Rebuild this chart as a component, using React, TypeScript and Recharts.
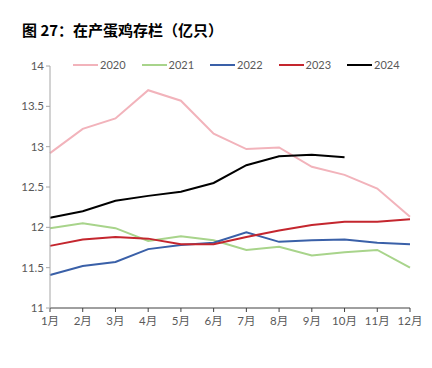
import { LineChart, Line, XAxis, YAxis } from "recharts";

const months = ["1月", "2月", "3月", "4月", "5月", "6月", "7月", "8月", "9月", "10月", "11月", "12月"];
const y2020 = [12.92, 13.22, 13.35, 13.7, 13.57, 13.16, 12.97, 12.99, 12.75, 12.65, 12.48, 12.13];
const y2021 = [11.99, 12.05, 11.99, 11.83, 11.89, 11.84, 11.72, 11.76, 11.65, 11.69, 11.72, 11.5];
const y2022 = [11.41, 11.52, 11.57, 11.73, 11.78, 11.81, 11.94, 11.82, 11.84, 11.85, 11.81, 11.79];
const y2023 = [11.77, 11.85, 11.88, 11.86, 11.79, 11.79, 11.88, 11.96, 12.03, 12.07, 12.07, 12.1];
const y2024 = [12.12, 12.2, 12.33, 12.39, 12.44, 12.55, 12.77, 12.88, 12.9, 12.87];
const yTicks = [11, 11.5, 12, 12.5, 13, 13.5, 14];

const series = [
  { key: "2020", color: "#F2B3BB", values: y2020 },
  { key: "2021", color: "#A8D48B", values: y2021 },
  { key: "2022", color: "#3A60A8", values: y2022 },
  { key: "2023", color: "#C4262E", values: y2023 },
  { key: "2024", color: "#000000", values: y2024 },
];

const data = months.map((m, i) => {
  const row: Record<string, string | number | null> = { month: m };
  series.forEach((s) => {
    row[s.key] = i < s.values.length ? s.values[i] : null;
  });
  return row;
});

const font = "Lato, 'Noto Sans CJK SC', sans-serif";

export default function App() {
  return (
    <div style={{ position: "absolute", left: 0, top: 0, width: 432, height: 368, background: "#fff" }}>
      <div
        style={{
          position: "absolute",
          left: 22,
          top: 19,
          fontFamily: "'Noto Sans CJK SC', sans-serif",
          fontWeight: 700,
          fontSize: 15,
          color: "#000",
          whiteSpace: "nowrap",
        }}
      >
        图 27：在产蛋鸡存栏（亿只）
      </div>
      <LineChart width={432} height={368} data={data} margin={{ top: 66, right: 22, left: 0, bottom: 30 }}>
        <XAxis
          dataKey="month"
          axisLine={{ stroke: "#404040" }}
          tickLine={{ stroke: "#404040" }}
          tickSize={4}
          tickMargin={5}
          tick={{ fill: "#595959", fontSize: 11.5, fontFamily: font }}
          interval={0}
        />
        <YAxis
          domain={[11, 14]}
          ticks={yTicks}
          width={50}
          axisLine={{ stroke: "#A6A6A6" }}
          tickLine={{ stroke: "#A6A6A6" }}
          tickSize={4}
          tick={{ fill: "#595959", fontSize: 11.5, fontFamily: font }}
        />
        {series.map((s) => (
          <Line
            key={s.key}
            dataKey={s.key}
            stroke={s.color}
            strokeWidth={2}
            dot={false}
            type="linear"
            isAnimationActive={false}
          />
        ))}
      </LineChart>
      <div
        style={{
          position: "absolute",
          left: 73,
          top: 58,
          display: "flex",
          fontFamily: font,
          fontSize: 11,
          color: "#595959",
          background: "#fff",
        }}
      >
        {series.map((s) => (
          <div key={s.key} style={{ display: "flex", alignItems: "center", width: 68.5 }}>
            <span style={{ display: "inline-block", width: 25, height: 2, background: s.color, marginRight: 2 }} />
            <span>{s.key}</span>
          </div>
        ))}
      </div>
    </div>
  );
}
